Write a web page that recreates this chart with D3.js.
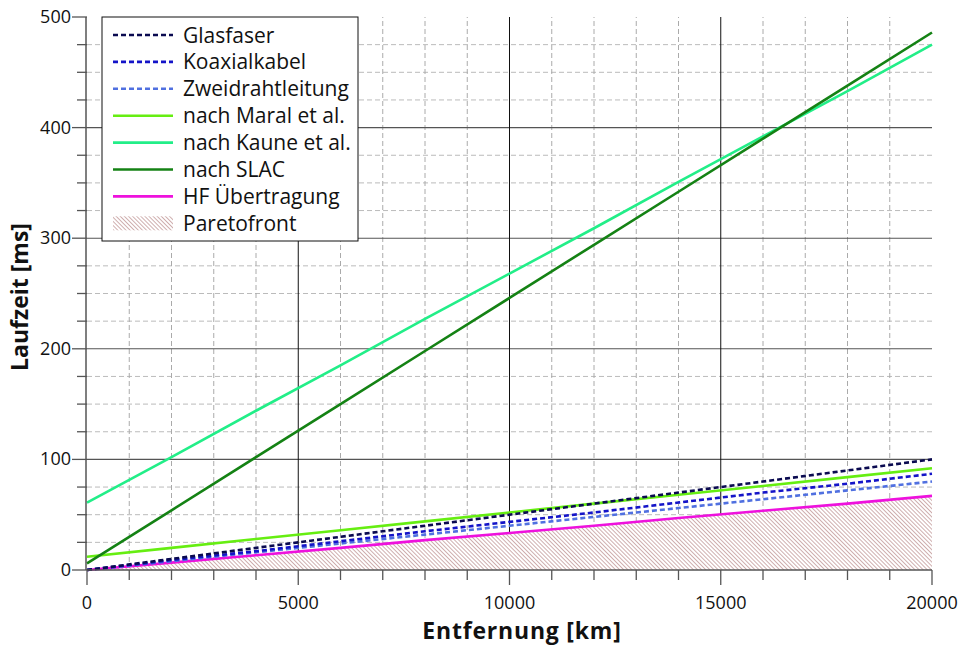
<!DOCTYPE html>
<html>
<head>
<meta charset="utf-8">
<script src="https://cdn.jsdelivr.net/npm/d3@7"></script>
<style>
  body { margin: 0; background: #fff; }
  svg { display: block; font-family: "Open Sans", "DejaVu Sans", sans-serif; }
</style>
</head>
<body>
<div id="chart"></div>
<script>
// distance in km, latency in ms
const distances = [0, 2000, 4000, 6000, 8000, 10000, 12000, 14000, 16000, 18000, 20000];
const glasfaser = [0, 10, 20, 30, 40, 50, 60, 70, 80, 90, 100];
const koaxialkabel = [0, 9, 17, 26, 35, 43.5, 52, 61, 70, 78, 87];
const zweidraht = [0, 8, 16, 24, 32, 40, 48, 56, 64, 72, 80];
const maral = [12, 20, 28, 36, 44, 52, 60, 68, 76, 84, 92];
const kaune = [61, 102, 144, 185, 227, 268, 309, 351, 392, 433, 475];
const slac = [6, 54, 102, 150, 198, 246, 294, 342, 390, 438, 486];
const hf = [0, 6.7, 13.4, 20, 27, 33.5, 40, 47, 53.6, 60, 67];

const xTicks = [0, 5000, 10000, 15000, 20000];
const yTicks = [0, 100, 200, 300, 400, 500];

const width = 960, height = 645;
const margin = { top: 17, right: 28, bottom: 75, left: 87 };

const svg = d3.select("#chart").append("svg")
  .attr("width", width)
  .attr("height", height);

const x = d3.scaleLinear().domain([0, 20000]).range([margin.left, width - margin.right]);
const y = d3.scaleLinear().domain([0, 500]).range([height - margin.bottom, margin.top]);

// hatch pattern for the pareto front
const defs = svg.append("defs");
const pat = defs.append("pattern")
  .attr("id", "hatch")
  .attr("patternUnits", "userSpaceOnUse")
  .attr("width", 2.9).attr("height", 2.9)
  .attr("patternTransform", "rotate(-45)");
pat.append("rect").attr("width", 2.9).attr("height", 2.9).attr("fill", "#fff");
pat.append("line")
  .attr("x1", 0).attr("y1", 0).attr("x2", 0).attr("y2", 2.9)
  .attr("stroke", "#a86e6e").attr("stroke-width", 1.1);

// grid
const grid = svg.append("g");
const yMinor = d3.range(25, 500, 25).filter(v => v % 100 !== 0);
const xMinor = d3.range(1000, 20001, 1000).filter(v => v % 5000 !== 0);

grid.selectAll(".ym").data(yMinor).join("line")
  .attr("x1", x(0)).attr("x2", x(20000))
  .attr("y1", d => y(d)).attr("y2", d => y(d))
  .attr("stroke", "#bbb").attr("stroke-dasharray", "5,3");
grid.selectAll(".xm").data(xMinor).join("line")
  .attr("x1", d => x(d)).attr("x2", d => x(d))
  .attr("y1", y(0)).attr("y2", y(500))
  .attr("stroke", "#aaa").attr("stroke-dasharray", "5,3");
grid.selectAll(".yM").data(yTicks.filter(v => v > 0 && v < 500)).join("line")
  .attr("x1", x(0)).attr("x2", x(20000))
  .attr("y1", d => y(d)).attr("y2", d => y(d))
  .attr("stroke", "#555").attr("stroke-width", 1.1);
grid.selectAll(".xM").data(xTicks.filter(v => v > 0 && v < 20000)).join("line")
  .attr("x1", d => x(d)).attr("x2", d => x(d))
  .attr("y1", y(0)).attr("y2", y(500))
  .attr("stroke", "#111").attr("stroke-width", 1);

// pareto area
const area = d3.area()
  .x((d, i) => x(distances[i]))
  .y0(y(0))
  .y1(d => y(d));
svg.append("path").datum(hf)
  .attr("d", area)
  .attr("fill", "url(#hatch)");

const line = d3.line().x((d, i) => x(distances[i])).y(d => y(d));

const series = [
  { name: "Glasfaser", values: glasfaser, color: "#0a0a50", dash: "5,3", order: 5 },
  { name: "Koaxialkabel", values: koaxialkabel, color: "#1414c8", dash: "5,3", order: 4 },
  { name: "Zweidrahtleitung", values: zweidraht, color: "#5070e0", dash: "5,3", order: 3 },
  { name: "nach Maral et al.", values: maral, color: "#66ee11", dash: null, order: 2 },
  { name: "nach Kaune et al.", values: kaune, color: "#22ee88", dash: null, order: 6 },
  { name: "nach SLAC", values: slac, color: "#148214", dash: null, order: 7 },
  { name: "HF Übertragung", values: hf, color: "#ee11dd", dash: null, order: 1 }
];

series.slice().sort((a, b) => a.order - b.order).forEach(s => {
  svg.append("path").datum(s.values)
    .attr("d", line)
    .attr("fill", "none")
    .attr("stroke", s.color)
    .attr("stroke-width", 2.6)
    .attr("stroke-dasharray", s.dash);
});

// axes
const axisColor = "#555";
svg.append("line")
  .attr("x1", x(0)).attr("x2", x(20000)).attr("y1", y(0)).attr("y2", y(0))
  .attr("stroke", axisColor).attr("stroke-width", 1.5);
svg.append("line")
  .attr("x1", x(0) - 1).attr("x2", x(0) - 1).attr("y1", y(500)).attr("y2", y(0))
  .attr("stroke", axisColor).attr("stroke-width", 1.5);

// x ticks
svg.selectAll(".xt").data(xTicks).join("line")
  .attr("x1", d => x(d)).attr("x2", d => x(d))
  .attr("y1", y(0)).attr("y2", y(0) + 15)
  .attr("stroke", axisColor).attr("stroke-width", 1.3);
svg.selectAll(".xtm").data(xMinor).join("line")
  .attr("x1", d => x(d)).attr("x2", d => x(d))
  .attr("y1", y(0)).attr("y2", y(0) + 10)
  .attr("stroke", axisColor).attr("stroke-width", 1.3);
svg.selectAll(".xl").data(xTicks).join("text")
  .attr("x", d => x(d)).attr("y", y(0) + 39)
  .attr("text-anchor", "middle")
  .attr("font-size", 18).attr("fill", "#111")
  .text(d => d);

// y ticks
svg.selectAll(".yt").data(yTicks).join("line")
  .attr("x1", x(0) - 15).attr("x2", x(0))
  .attr("y1", d => y(d)).attr("y2", d => y(d))
  .attr("stroke", axisColor).attr("stroke-width", 1.3);
svg.selectAll(".ytm").data(yMinor).join("line")
  .attr("x1", x(0) - 10).attr("x2", x(0))
  .attr("y1", d => y(d)).attr("y2", d => y(d))
  .attr("stroke", axisColor).attr("stroke-width", 1.3);
svg.selectAll(".yl").data(yTicks).join("text")
  .attr("x", x(0) - 16).attr("y", d => y(d) + 6)
  .attr("text-anchor", "end")
  .attr("font-size", 18).attr("fill", "#111")
  .text(d => d);

// axis titles
svg.append("text")
  .attr("x", 522).attr("y", 639)
  .attr("text-anchor", "middle")
  .attr("font-size", 23).attr("font-weight", "bold").attr("fill", "#111")
  .attr("letter-spacing", 0.8)
  .text("Entfernung [km]");
svg.append("text")
  .attr("transform", `translate(28,${297}) rotate(-90)`)
  .attr("text-anchor", "middle")
  .attr("font-size", 23).attr("font-weight", "bold").attr("fill", "#111")
  .text("Laufzeit [ms]");

// legend
const legend = svg.append("g").attr("transform", "translate(102,17)");
legend.append("rect")
  .attr("width", 256).attr("height", 224)
  .attr("fill", "#fff").attr("stroke", "#111").attr("stroke-width", 1);

const legendItems = series.map(s => ({ name: s.name, color: s.color, dash: s.dash, hatch: false }))
  .concat([{ name: "Paretofront", hatch: true }]);

const item = legend.selectAll(".li").data(legendItems).join("g")
  .attr("transform", (d, i) => `translate(0,${18 + i * 26.9})`);
item.filter(d => !d.hatch).append("line")
  .attr("x1", 11).attr("x2", 71)
  .attr("stroke", d => d.color)
  .attr("stroke-width", 2.6)
  .attr("stroke-dasharray", d => d.dash);
item.filter(d => d.hatch).append("rect")
  .attr("x", 11).attr("y", -7).attr("width", 60).attr("height", 14)
  .attr("fill", "url(#hatch)");
item.append("text")
  .attr("x", 81).attr("y", 7.5)
  .attr("font-size", 21).attr("fill", "#111")
  .text(d => d.name);
</script>
</body>
</html>
